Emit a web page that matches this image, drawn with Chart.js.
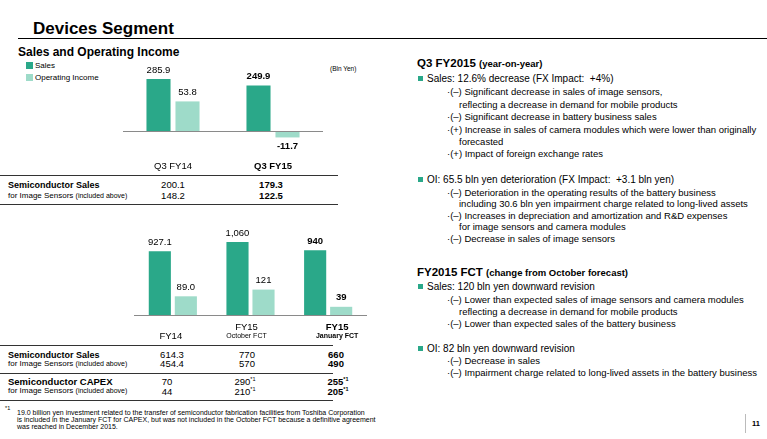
<!DOCTYPE html>
<html lang="en">
<head>
<meta charset="UTF-8">
<title>Devices Segment</title>
<script src="https://cdn.jsdelivr.net/npm/chart.js@4.4.0/dist/chart.umd.min.js"></script>
<style>
  body { margin: 0; background: #fff; font-family: "Liberation Sans", Arial, sans-serif; color: #000; }
  #slide { position: relative; width: 767px; height: 439px; overflow: hidden; }
  .t { position: absolute; white-space: nowrap; line-height: 1; transform: translateY(-50%); }
  .c { transform: translate(-50%, -50%); }
  .b { font-weight: bold; }
  .hr { position: absolute; height: 1px; background: #333; }
  .sq { display: inline-block; width: 5px; height: 5px; background: #2aa889; margin-right: 4px; vertical-align: 1px; }
  .box { position: absolute; }
  .r1 { font-size: 10px; }
  .r2 { font-size: 9.5px; }
  .hd { font-size: 11.5px; font-weight: bold; }
  .hd span { font-size: 9.5px; }
  .lab1 { font-size: 9px; font-weight: bold; line-height: 0.75; }
  .lab2 { font-size: 8px; line-height: 0.75; }
  .lab2 span { font-size: 7px; }
  .v { font-size: 9.5px; line-height: 0.85; }
  sup { font-size: 5.5px; vertical-align: 4px; line-height: 0; }
</style>
</head>
<body>
<div id="slide">
  <div class="t b" style="left:33px;top:28px;font-size:17px;">Devices Segment</div>
  <div class="hr" style="left:18px;top:38px;width:749px;background:#000;"></div>
  <div class="t b" style="left:18px;top:52px;font-size:12px;">Sales and Operating Income</div>

  <div class="box" style="left:26px;top:62px;width:7px;height:7px;background:#2aa889;"></div>
  <div class="t" style="left:35px;top:66px;font-size:8px;">Sales</div>
  <div class="box" style="left:26px;top:74px;width:7px;height:7px;background:#9edbc9;"></div>
  <div class="t" style="left:35px;top:77.5px;font-size:8px;">Operating Income</div>
  <div class="t" style="left:330px;top:69px;font-size:6.5px;">(Bln Yen)</div>

  <div class="box" style="left:123px;top:55px;width:200px;height:120px;"><canvas id="topChart"></canvas></div>

  <!-- quarterly table -->
  <div class="hr" style="left:0;top:175px;width:338px;"></div>
  <div class="t lab1" style="left:8px;top:185px;">Semiconductor Sales</div>
  <div class="t lab2" style="left:8px;top:195.5px;">for Image Sensors <span>(included above)</span></div>
  <div class="t c v" style="left:173px;top:185px;">200.1</div>
  <div class="t c v" style="left:173px;top:195.5px;">148.2</div>
  <div class="t c v b" style="left:271px;top:185px;">179.3</div>
  <div class="t c v b" style="left:271px;top:195.5px;">122.5</div>
  <div class="hr" style="left:0;top:204px;width:338px;"></div>

  <div class="box" style="left:134px;top:220px;width:233px;height:122px;"><canvas id="fyChart"></canvas></div>

  <!-- fiscal year table -->
  <div class="hr" style="left:0;top:345px;width:333px;"></div>
  <div class="t lab1" style="left:8px;top:354.5px;">Semiconductor Sales</div>
  <div class="t lab2" style="left:8px;top:364px;">for Image Sensors <span>(included above)</span></div>
  <div class="t c v" style="left:172px;top:354.5px;">614.3</div>
  <div class="t c v" style="left:172px;top:364px;">454.4</div>
  <div class="t c v" style="left:247px;top:354.5px;">770</div>
  <div class="t c v" style="left:247px;top:364px;">570</div>
  <div class="t c v b" style="left:336px;top:354.5px;">660</div>
  <div class="t c v b" style="left:336px;top:364px;">490</div>
  <div class="hr" style="left:0;top:373px;width:333px;"></div>
  <div class="t lab1" style="left:8px;top:381.5px;font-size:9.5px;">Semiconductor CAPEX</div>
  <div class="t lab2" style="left:8px;top:390.5px;">for Image Sensors <span>(included above)</span></div>
  <div class="t c v" style="left:167px;top:382px;">70</div>
  <div class="t c v" style="left:167px;top:392px;">44</div>
  <div class="t c v" style="left:245px;top:382px;">290<sup>*1</sup></div>
  <div class="t c v" style="left:245px;top:392px;">210<sup>*1</sup></div>
  <div class="t c v b" style="left:338px;top:382px;">255<sup>*1</sup></div>
  <div class="t c v b" style="left:338px;top:392px;">205<sup>*1</sup></div>
  <div class="hr" style="left:0;top:400px;width:333px;"></div>

  <div class="t" style="left:5px;top:409px;font-size:5.5px;">*1</div>
  <div class="t" style="left:17px;top:412px;font-size:7px;">19.0 billion yen investment related to the transfer of semiconductor fabrication facilities from Toshiba Corporation</div>
  <div class="t" style="left:17px;top:419px;font-size:7px;">is included in the January FCT for CAPEX, but was not included in the October FCT because a definitive agreement</div>
  <div class="t" style="left:17px;top:426px;font-size:7px;">was reached in December 2015.</div>

  <!-- right column -->
  <div class="t hd" style="left:417px;top:64px;">Q3 FY2015 <span>(year-on-year)</span></div>
  <div class="t r1" style="left:418px;top:79px;"><i class="sq"></i>Sales: 12.6% decrease (FX Impact:&nbsp; +4%)</div>
  <div class="t r2" style="left:447px;top:92px;">·(–) Significant decrease in sales of image sensors,</div>
  <div class="t r2" style="left:459px;top:105px;">reflecting a decrease in demand for mobile products</div>
  <div class="t r2" style="left:447px;top:117px;">·(–) Significant decrease in battery business sales</div>
  <div class="t r2" style="left:447px;top:130px;">·(+) Increase in sales of camera modules which were lower than originally</div>
  <div class="t r2" style="left:459px;top:142px;">forecasted</div>
  <div class="t r2" style="left:447px;top:154px;">·(+) Impact of foreign exchange rates</div>

  <div class="t r1" style="left:418px;top:180px;"><i class="sq"></i>OI: 65.5 bln yen deterioration (FX Impact:&nbsp; +3.1 bln yen)</div>
  <div class="t r2" style="left:447px;top:193px;">·(–) Deterioration in the operating results of the battery business</div>
  <div class="t r2" style="left:459px;top:204px;">including 30.6 bln yen impairment charge related to long-lived assets</div>
  <div class="t r2" style="left:447px;top:216px;">·(–) Increases in depreciation and amortization and R&amp;D expenses</div>
  <div class="t r2" style="left:459px;top:227px;">for image sensors and camera modules</div>
  <div class="t r2" style="left:447px;top:239px;">·(–) Decrease in sales of image sensors</div>

  <div class="t hd" style="left:417px;top:273px;">FY2015 FCT <span>(change from October forecast)</span></div>
  <div class="t r1" style="left:418px;top:287px;"><i class="sq"></i>Sales: 120 bln yen downward revision</div>
  <div class="t r2" style="left:447px;top:300px;">·(–) Lower than expected sales of image sensors and camera modules</div>
  <div class="t r2" style="left:459px;top:312px;">reflecting a decrease in demand for mobile products</div>
  <div class="t r2" style="left:447px;top:324px;">·(–) Lower than expected sales of the battery business</div>
  <div class="t r1" style="left:418px;top:349px;"><i class="sq"></i>OI: 82 bln yen downward revision</div>
  <div class="t r2" style="left:447px;top:361px;">·(–) Decrease in sales</div>
  <div class="t r2" style="left:447px;top:373px;">·(–) Impairment charge related to long-lived assets in the battery business</div>

  <div class="box" style="left:745px;top:414px;width:1px;height:19px;background:#bbb;"></div>
  <div class="t b" style="left:752px;top:424px;font-size:7.5px;">11</div>
</div>

<script>
    // quarter comparison
    const quarterLabels = ['Q3 FY14', 'Q3 FY15'];
    const quarterSales = [285.9, 249.9];
    const quarterOI = [53.8, -11.7];

    // full year and forecasts
    const yearLabels = [['FY14'], ['FY15', 'October FCT'], ['FY15', 'January FCT']];
    const yearSales = [927.1, 1060, 940];
    const yearOI = [89.0, 121, 39];
    const yearDecimals = [1, 0, 0];

    const salesColor = '#2aa889';
    const oiColor = '#9edbc9';
    const fontFamily = '"Liberation Sans", Arial, sans-serif';

    // zero line across the plot
    const baseLine = {
        id: 'baseLine',
        afterDatasetsDraw(chart) {
            const ctx = chart.ctx;
            const y = Math.round(chart.scales.ySales.getPixelForValue(0)) + 0.5;
            ctx.save();
            ctx.strokeStyle = '#8a8a8a';
            ctx.lineWidth = 1;
            ctx.beginPath();
            ctx.moveTo(chart.chartArea.left, y);
            ctx.lineTo(chart.chartArea.right, y);
            ctx.stroke();
            ctx.restore();
        }
    };

    // numbers above / below bars
    const valueLabels = {
        id: 'valueLabels',
        afterDatasetsDraw(chart, args, opts) {
            const ctx = chart.ctx;
            ctx.save();
            ctx.textAlign = 'center';
            ctx.textBaseline = 'middle';
            ctx.fillStyle = '#000';
            chart.data.datasets.forEach((ds, di) => {
                chart.getDatasetMeta(di).data.forEach((bar, i) => {
                    const v = ds.data[i];
                    ctx.font = (i === opts.boldIndex ? 'bold ' : '') + '9.5px ' + fontFamily;
                    const y = v >= 0 ? bar.y - 9 : bar.y + 9;
                    ctx.fillText(opts.format(v, i), bar.x, y);
                });
            });
            ctx.restore();
        }
    };

    // category names under the axis
    const categoryLabels = {
        id: 'categoryLabels',
        afterDraw(chart, args, opts) {
            const ctx = chart.ctx;
            const x = chart.scales.x;
            ctx.save();
            ctx.textAlign = 'center';
            ctx.textBaseline = 'middle';
            ctx.fillStyle = '#000';
            chart.data.labels.forEach((lab, i) => {
                const lines = Array.isArray(lab) ? lab : [lab];
                const bold = i === opts.boldIndex ? 'bold ' : '';
                const cx = x.getPixelForValue(i) + (opts.shift ? opts.shift[i] : 0);
                if (lines.length === 1) {
                    ctx.font = bold + '9.5px ' + fontFamily;
                    ctx.fillText(lines[0], cx, opts.y[opts.y.length - 1]);
                } else {
                    ctx.font = bold + '9.5px ' + fontFamily;
                    ctx.fillText(lines[0], cx, opts.y[0]);
                    ctx.font = bold + '7px ' + fontFamily;
                    ctx.fillText(lines[1], cx, opts.y[1]);
                }
            });
            ctx.restore();
        }
    };

    new Chart(document.getElementById('topChart'), {
        type: 'bar',
        data: {
            labels: quarterLabels,
            datasets: [
                { label: 'Sales', data: quarterSales, backgroundColor: salesColor, yAxisID: 'ySales',
                  categoryPercentage: 0.58, barPercentage: 0.83 },
                { label: 'Operating Income', data: quarterOI, backgroundColor: oiColor, yAxisID: 'yOI',
                  categoryPercentage: 0.58, barPercentage: 0.83 }
            ]
        },
        options: {
            responsive: true,
            maintainAspectRatio: false,
            animation: false,
            plugins: {
                legend: { display: false },
                tooltip: { enabled: false },
                valueLabels: { boldIndex: 1, format: v => v.toFixed(1) },
                categoryLabels: { boldIndex: 1, y: [111] }
            },
            scales: {
                x: { display: false },
                ySales: { display: false, min: -241.8, max: 417.5 },
                yOI: { display: false, min: -80, max: 138.2 }
            }
        },
        plugins: [baseLine, valueLabels, categoryLabels]
    });

    new Chart(document.getElementById('fyChart'), {
        type: 'bar',
        data: {
            labels: yearLabels,
            datasets: [
                { label: 'Sales', data: yearSales, backgroundColor: salesColor, yAxisID: 'ySales',
                  categoryPercentage: 0.67, barPercentage: 0.85 },
                { label: 'Operating Income', data: yearOI, backgroundColor: oiColor, yAxisID: 'yOI',
                  categoryPercentage: 0.67, barPercentage: 0.85 }
            ]
        },
        options: {
            responsive: true,
            maintainAspectRatio: false,
            animation: false,
            plugins: {
                legend: { display: false },
                tooltip: { enabled: false },
                valueLabels: {
                    boldIndex: 2,
                    format: (v, i) => v.toLocaleString('en-US', { minimumFractionDigits: yearDecimals[i], maximumFractionDigits: yearDecimals[i] })
                },
                categoryLabels: { boldIndex: 2, y: [107, 116.5], shift: [-2, -4, 9] }
            },
            scales: {
                x: { display: false },
                ySales: { display: false, min: -392.4, max: 1380.9 },
                yOI: { display: false, min: -128.6, max: 452.4 }
            }
        },
        plugins: [baseLine, valueLabels, categoryLabels]
    });
</script>
</body>
</html>
